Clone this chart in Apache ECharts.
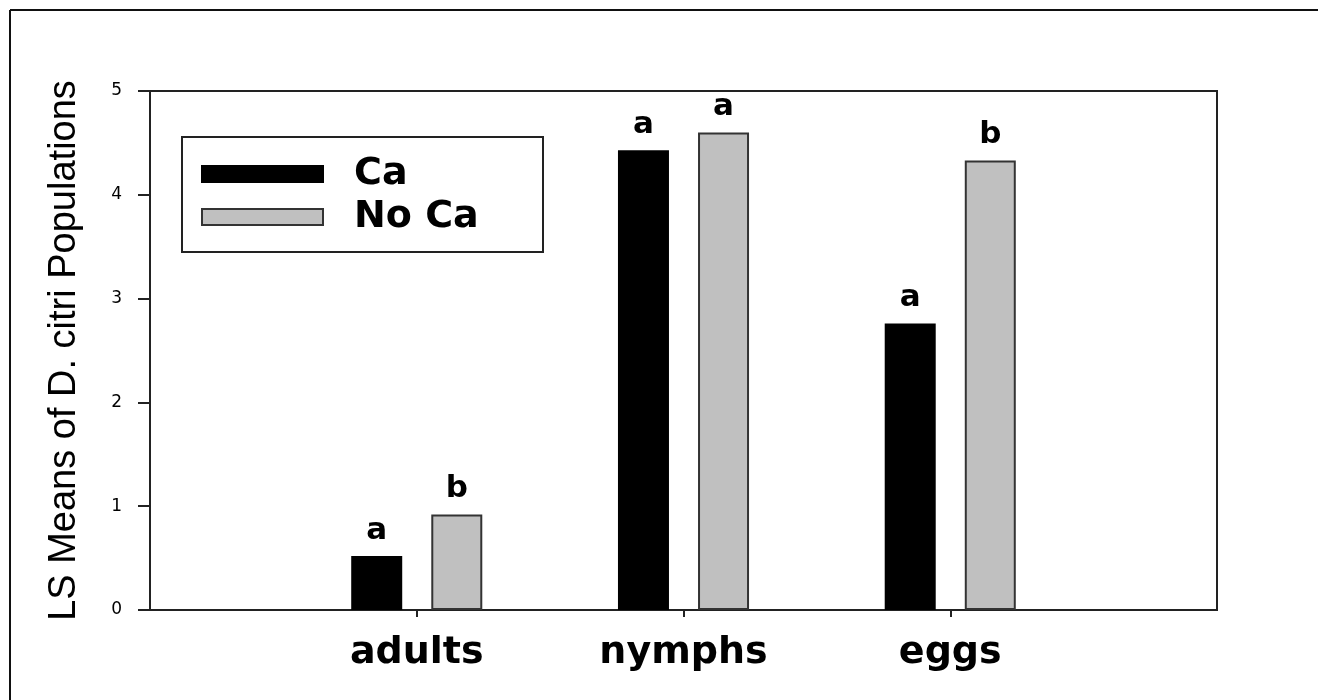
<!DOCTYPE html>
<html>
<head>
<meta charset="utf-8">
<script src="https://cdn.jsdelivr.net/npm/echarts@6/dist/echarts.min.js"></script>
<style>
html,body{margin:0;padding:0;background:#fff;}
#chart{width:1318px;height:700px;}
</style>
</head>
<body>
<div id="chart"></div>
<script>
const categories = ['adults', 'nymphs', 'eggs'];
const seriesNames = ['Ca', 'No Ca'];
const caValues = [0.52, 4.43, 2.76];
const noCaValues = [0.92, 4.60, 4.33];
const caLetters = ['a', 'a', 'a'];
const noCaLetters = ['b', 'a', 'b'];
const yTicks = [0, 1, 2, 3, 4, 5];

const axisData = [''].concat(categories, ['']);
function pad(arr) { return [null].concat(arr, [null]); }

const chart = echarts.init(document.getElementById('chart'));

function barSeries(name, values, letters, color, border) {
  return {
    name: name,
    type: 'bar',
    data: pad(values),
    barWidth: 51,
    barGap: '57%',
    itemStyle: { color: color, borderColor: border, borderWidth: 2 },
    label: {
      show: true,
      position: 'top',
      distance: 10,
      fontFamily: 'DejaVu Sans',
      fontWeight: 'bold',
      fontSize: 31,
      color: '#000',
      formatter: function (p) { return letters[p.dataIndex - 1] || ''; }
    }
  };
}

chart.setOption({
  animation: false,
  backgroundColor: '#fff',
  grid: { left: 150, top: 91, right: 101, bottom: 90, show: true, borderColor: '#222', borderWidth: 2, backgroundColor: 'transparent' },
  legend: {
    orient: 'vertical',
    left: 182,
    top: 137,
    data: seriesNames,
    icon: 'rect',
    itemWidth: 121,
    itemHeight: 16,
    itemGap: 3,
    padding: [17, 39, 15, 19],
    borderColor: '#222',
    borderWidth: 2,
    textStyle: {
      fontFamily: 'DejaVu Sans',
      fontWeight: 'bold',
      fontSize: 38,
      color: '#000',
      lineHeight: 40,
      width: 150,
      padding: [0, 0, 0, 26]
    }
  },
  xAxis: {
    type: 'category',
    data: axisData,
    boundaryGap: false,
    axisLine: { lineStyle: { color: '#222', width: 2 } },
    axisTick: {
      length: 7,
      interval: function (idx) { return idx >= 1 && idx <= categories.length; },
      lineStyle: { color: '#222', width: 2 }
    },
    axisLabel: {
      interval: 0,
      margin: 24,
      fontFamily: 'DejaVu Sans',
      fontWeight: 'bold',
      fontSize: 38,
      color: '#000'
    },
    splitLine: { show: false }
  },
  yAxis: {
    type: 'value',
    min: yTicks[0],
    max: yTicks[yTicks.length - 1],
    interval: 1,
    name: 'LS Means of D. citri Populations',
    nameLocation: 'middle',
    nameGap: 66,
    nameTextStyle: { fontFamily: 'Liberation Sans', fontSize: 38, color: '#000' },
    axisLine: { show: true, lineStyle: { color: '#222', width: 2 } },
    axisTick: { show: true, inside: false, length: 12, lineStyle: { color: '#222', width: 2 } },
    axisLabel: { margin: 28, fontFamily: 'DejaVu Sans', fontSize: 17, color: '#000' },
    splitLine: { show: false }
  },
  graphic: [
    { type: 'line', shape: { x1: 10, y1: 10, x2: 1318, y2: 10 }, style: { stroke: '#111', lineWidth: 2 }, silent: true },
    { type: 'line', shape: { x1: 10, y1: 10, x2: 10, y2: 700 }, style: { stroke: '#111', lineWidth: 2 }, silent: true }
  ],
  series: [
    barSeries(seriesNames[0], caValues, caLetters, '#000000', '#000000'),
    barSeries(seriesNames[1], noCaValues, noCaLetters, '#c0c0c0', '#333333')
  ]
});
</script>
</body>
</html>
